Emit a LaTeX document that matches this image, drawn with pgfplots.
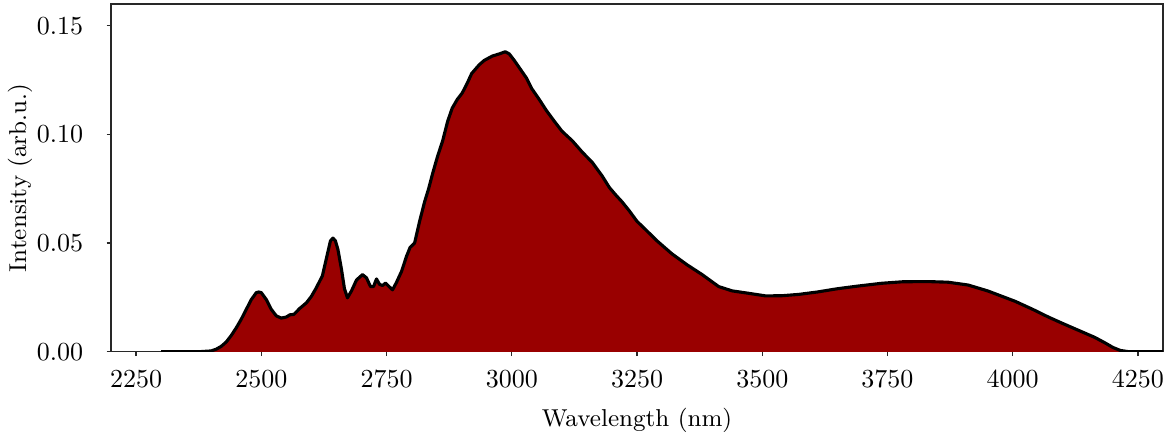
\documentclass[border=0pt]{standalone}
\usepackage{pgfplots}
\pgfplotsset{compat=1.18}
\usepackage{pgfplotstable}
\definecolor{fillred}{RGB}{153,0,0}
\definecolor{framegray}{RGB}{40,40,40}
\pgfplotstableread{
x y
2300 0
2350 0
2380 0.0001
2400 0.0004
2410 0.0012
2420 0.0025
2430 0.0045
2440 0.0075
2450 0.011
2460 0.015
2470 0.0195
2480 0.024
2490 0.0272
2495 0.0275
2500 0.0272
2510 0.024
2520 0.0195
2530 0.0165
2540 0.0155
2550 0.016
2557 0.017
2565 0.0172
2577 0.0200
2590 0.0225
2600 0.0255
2610 0.0295
2622 0.035
2632 0.045
2638 0.051
2643 0.0523
2648 0.051
2653 0.047
2660 0.038
2666 0.029
2672 0.0248
2680 0.028
2690 0.033
2702 0.0355
2710 0.034
2718 0.030
2724 0.030
2730 0.0335
2736 0.031
2742 0.0305
2748 0.0316
2755 0.030
2762 0.0285
2770 0.032
2780 0.037
2790 0.044
2797 0.048
2806 0.050
2816 0.060
2826 0.069
2834 0.075
2842 0.082
2852 0.090
2862 0.097
2872 0.106
2881 0.112
2891 0.116
2901 0.119
2910 0.123
2920 0.128
2935 0.132
2945 0.134
2961 0.136
2975 0.137
2987 0.138
2995 0.137
3005 0.134
3017 0.130
3029 0.126
3040 0.121
3055 0.116
3069 0.111
3085 0.106
3100 0.1015
3121 0.097
3140 0.092
3161 0.087
3180 0.081
3195 0.0755
3208 0.072
3220 0.069
3234 0.065
3250 0.060
3268 0.056
3290 0.051
3320 0.045
3350 0.040
3380 0.0355
3413 0.030
3440 0.028
3470 0.027
3507 0.0257
3540 0.0258
3573 0.0264
3610 0.0275
3650 0.0290
3690 0.0302
3738 0.0315
3780 0.0322
3830 0.0323
3871 0.032
3911 0.0307
3950 0.028
4005 0.0232
4040 0.0195
4071 0.0160
4100 0.0130
4130 0.010
4164 0.0066
4185 0.004
4200 0.002
4215 0.0006
4230 0.0001
4250 0
4300 0
}\spectrum
\begin{document}
\begin{tikzpicture}
\begin{axis}[
  name=ax,
  at={(0,0)}, anchor=south west,
  width=404.6pt, height=133.8pt, scale only axis,
  xmin=2200, xmax=4300, ymin=0, ymax=0.16,
  xtick={2250,2500,2750,3000,3250,3500,3750,4000,4250},
  ytick={0,0.05,0.10,0.15},
  scaled y ticks=false,
  xticklabel style={/pgf/number format/1000 sep={}, yshift=-1.9pt},
  yticklabel style={/pgf/number format/fixed, /pgf/number format/fixed zerofill, /pgf/number format/precision=2, xshift=-5.5pt},
  tick pos=left,
  tick align=outside,
  major tick length=1.7pt,
  axis line style={framegray, line width=0.5pt},
  every tick/.style={framegray, line width=0.5pt},
  xlabel={Wavelength (nm)},
  ylabel={Intensity (arb.u.)},
  xlabel style={at={(axis description cs:0.5,-0.1958)}, anchor=center, font=\fontsize{9.4}{11}\selectfont},
  ylabel style={at={(axis description cs:-0.0865,0.5)}, anchor=center, font=\fontsize{9.4}{11}\selectfont},
]
\addplot[fill=fillred, draw=none] table[x=x,y=y] {\spectrum} \closedcycle;
\addplot[black, line width=1.2pt, line join=round] table[x=x,y=y] {\spectrum};
\end{axis}
\pgfresetboundingbox
\path ([shift={(-42.7pt,-33.5pt)}]ax.south west) rectangle ([shift={(3.85pt,1.5pt)}]ax.north east);
\end{tikzpicture}
\end{document}
